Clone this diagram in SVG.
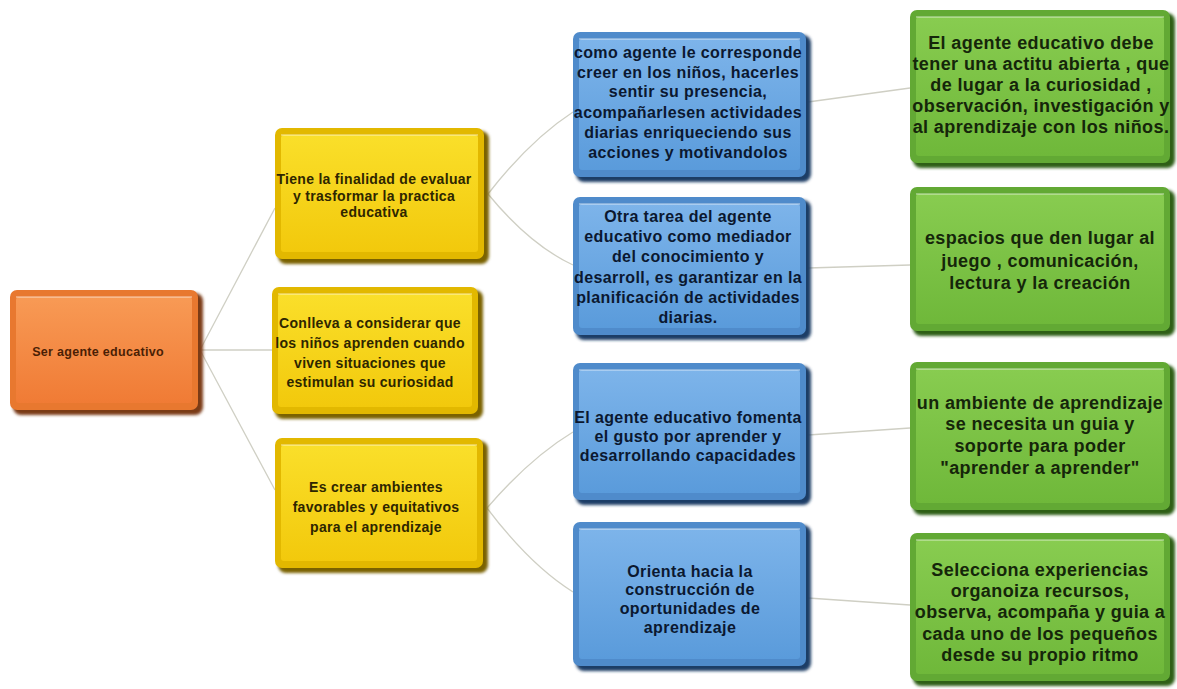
<svg xmlns="http://www.w3.org/2000/svg" width="1177" height="689" viewBox="0 0 1177 689">
<defs>
<filter id="sh" x="-10%" y="-10%" width="130%" height="130%">
<feGaussianBlur stdDeviation="1.5"/>
</filter>
<linearGradient id="gO" x1="0" y1="0" x2="0" y2="1"><stop offset="0" stop-color="#F89A55"/><stop offset="1" stop-color="#F07B35"/></linearGradient>
<linearGradient id="gY" x1="0" y1="0" x2="0" y2="1"><stop offset="0" stop-color="#FADF2A"/><stop offset="1" stop-color="#F2C90C"/></linearGradient>
<linearGradient id="gB" x1="0" y1="0" x2="0" y2="1"><stop offset="0" stop-color="#7DB4EA"/><stop offset="1" stop-color="#5A9BDB"/></linearGradient>
<linearGradient id="gG" x1="0" y1="0" x2="0" y2="1"><stop offset="0" stop-color="#88CC50"/><stop offset="1" stop-color="#6FB83A"/></linearGradient>
</defs>
<style>
.shadow{filter:url(#sh)}
.orange .shadow{fill:#7A3A12}
.yellow .shadow{fill:#7A6200}
.blue .shadow{fill:#1E3E66}
.green .shadow{fill:#2F5E17}
.orange .frame{fill:#E8782F}
.yellow .frame{fill:#E2B800}
.blue .frame{fill:#4F8BCB}
.green .frame{fill:#62A934}
.orange .face{fill:url(#gO)}
.yellow .face{fill:url(#gY)}
.blue .face{fill:url(#gB)}
.green .face{fill:url(#gG)}
.hl{fill:none;stroke:#ffffff;stroke-opacity:0.45;stroke-width:1.5}
text{font-family:"Liberation Sans",Arial,sans-serif;font-weight:bold;text-anchor:middle}
.orange text{font-size:12.5px;letter-spacing:0.3px;fill:#4a1f05}
.yellow text{font-size:14px;letter-spacing:0.3px;fill:#2e2600}
.blue text{font-size:16px;letter-spacing:0.4px;fill:#0b1830}
.green text{font-size:18px;letter-spacing:0.4px;fill:#15260a}
.conn path{fill:none;stroke:#cfcfc4;stroke-width:1.3}
</style>

<g class="conn" id="connectors">
<path d="M200,350 L275,208"/>
<path d="M200,350 L272,350"/>
<path d="M200,350 L275,490"/>
<path d="M488,194 Q530,140 573,112"/>
<path d="M488,194 Q530,245 573,265"/>
<path d="M487,508 Q530,458 573,432"/>
<path d="M487,508 Q530,565 573,592"/>
<path d="M808,102 L910,88"/>
<path d="M808,268 L910,265"/>
<path d="M808,435 L910,428"/>
<path d="M808,598 L910,605"/>
</g>

<g id="n0" class="node orange">
<rect class="shadow" x="13" y="293" width="190" height="122" rx="8"/>
<rect class="frame" x="10" y="290" width="188" height="120" rx="7"/>
<rect class="face" x="16" y="297" width="176" height="106" rx="3"/>
<path class="hl" d="M16,297 H192"/>
<text x="98" y="356">Ser agente educativo</text>
</g>

<g id="y1" class="node yellow">
<rect class="shadow" x="278" y="131" width="211" height="133" rx="8"/>
<rect class="frame" x="275" y="128" width="209" height="131" rx="7"/>
<rect class="face" x="281" y="135" width="197" height="117" rx="3"/>
<path class="hl" d="M281,135 H478"/>
<text x="374" y="184">Tiene la finalidad de evaluar</text>
<text x="374" y="201">y trasformar la practica</text>
<text x="374" y="217">educativa</text>
</g>

<g id="y2" class="node yellow">
<rect class="shadow" x="275" y="290" width="208" height="129" rx="8"/>
<rect class="frame" x="272" y="287" width="206" height="127" rx="7"/>
<rect class="face" x="278" y="294" width="194" height="113" rx="3"/>
<path class="hl" d="M278,294 H472"/>
<text x="370" y="328">Conlleva a considerar que</text>
<text x="370" y="348">los niños aprenden cuando</text>
<text x="370" y="368">viven situaciones que</text>
<text x="370" y="387">estimulan su curiosidad</text>
</g>

<g id="y3" class="node yellow">
<rect class="shadow" x="278" y="441" width="210" height="132" rx="8"/>
<rect class="frame" x="275" y="438" width="208" height="130" rx="7"/>
<rect class="face" x="281" y="445" width="196" height="116" rx="3"/>
<path class="hl" d="M281,445 H477"/>
<text x="376" y="492">Es crear ambientes</text>
<text x="376" y="512">favorables y equitativos</text>
<text x="376" y="532">para el aprendizaje</text>
</g>

<g id="b1" class="node blue">
<rect class="shadow" x="576" y="35" width="235" height="147" rx="8"/>
<rect class="frame" x="573" y="32" width="233" height="145" rx="7"/>
<rect class="face" x="579" y="39" width="221" height="131" rx="3"/>
<path class="hl" d="M579,39 H800"/>
<text x="688" y="58">como agente le corresponde</text>
<text x="688" y="78">creer en los niños, hacerles</text>
<text x="688" y="97">sentir su presencia,</text>
<text x="688" y="118">acompañarlesen actividades</text>
<text x="688" y="138">diarias enriqueciendo sus</text>
<text x="688" y="158">acciones y motivandolos</text>
</g>

<g id="b2" class="node blue">
<rect class="shadow" x="576" y="200" width="235" height="140" rx="8"/>
<rect class="frame" x="573" y="197" width="233" height="138" rx="7"/>
<rect class="face" x="579" y="204" width="221" height="124" rx="3"/>
<path class="hl" d="M579,204 H800"/>
<text x="688" y="222">Otra tarea del agente</text>
<text x="688" y="242">educativo como mediador</text>
<text x="688" y="262">del conocimiento y</text>
<text x="688" y="283">desarroll, es garantizar en la</text>
<text x="688" y="303">planificación de actividades</text>
<text x="688" y="323">diarias.</text>
</g>

<g id="b3" class="node blue">
<rect class="shadow" x="576" y="366" width="235" height="139" rx="8"/>
<rect class="frame" x="573" y="363" width="233" height="137" rx="7"/>
<rect class="face" x="579" y="370" width="221" height="123" rx="3"/>
<path class="hl" d="M579,370 H800"/>
<text x="688" y="423">El agente educativo fomenta</text>
<text x="688" y="442">el gusto por aprender y</text>
<text x="688" y="461">desarrollando capacidades</text>
</g>

<g id="b4" class="node blue">
<rect class="shadow" x="576" y="525" width="235" height="146" rx="8"/>
<rect class="frame" x="573" y="522" width="233" height="144" rx="7"/>
<rect class="face" x="579" y="529" width="221" height="130" rx="3"/>
<path class="hl" d="M579,529 H800"/>
<text x="690" y="577">Orienta hacia la</text>
<text x="690" y="595">construcción de</text>
<text x="690" y="614">oportunidades de</text>
<text x="690" y="633">aprendizaje</text>
</g>

<g id="g1" class="node green">
<rect class="shadow" x="913" y="13" width="262" height="155" rx="8"/>
<rect class="frame" x="910" y="10" width="260" height="153" rx="7"/>
<rect class="face" x="916" y="17" width="248" height="139" rx="3"/>
<path class="hl" d="M916,17 H1164"/>
<text x="1041" y="49">El agente educativo debe</text>
<text x="1041" y="70">tener una actitu abierta , que</text>
<text x="1041" y="91">de lugar a la curiosidad ,</text>
<text x="1041" y="112">observación, investigación y</text>
<text x="1041" y="133">al aprendizaje con los niños.</text>
</g>

<g id="g2" class="node green">
<rect class="shadow" x="913" y="190" width="262" height="146" rx="8"/>
<rect class="frame" x="910" y="187" width="260" height="144" rx="7"/>
<rect class="face" x="916" y="194" width="248" height="130" rx="3"/>
<path class="hl" d="M916,194 H1164"/>
<text x="1040" y="244">espacios que den lugar al</text>
<text x="1040" y="267">juego , comunicación,</text>
<text x="1040" y="289">lectura y la creación</text>
</g>

<g id="g3" class="node green">
<rect class="shadow" x="913" y="365" width="262" height="150" rx="8"/>
<rect class="frame" x="910" y="362" width="260" height="148" rx="7"/>
<rect class="face" x="916" y="369" width="248" height="134" rx="3"/>
<path class="hl" d="M916,369 H1164"/>
<text x="1040" y="409">un ambiente de aprendizaje</text>
<text x="1040" y="430">se necesita un guia y</text>
<text x="1040" y="452">soporte para poder</text>
<text x="1040" y="474">"aprender a  aprender"</text>
</g>

<g id="g4" class="node green">
<rect class="shadow" x="913" y="536" width="262" height="150" rx="8"/>
<rect class="frame" x="910" y="533" width="260" height="148" rx="7"/>
<rect class="face" x="916" y="540" width="248" height="134" rx="3"/>
<path class="hl" d="M916,540 H1164"/>
<text x="1040" y="576">Selecciona experiencias</text>
<text x="1040" y="597">organoiza recursos,</text>
<text x="1040" y="618">observa, acompaña y guia a</text>
<text x="1040" y="640">cada uno de los pequeños</text>
<text x="1040" y="661">desde su propio ritmo</text>
</g>
</svg>
